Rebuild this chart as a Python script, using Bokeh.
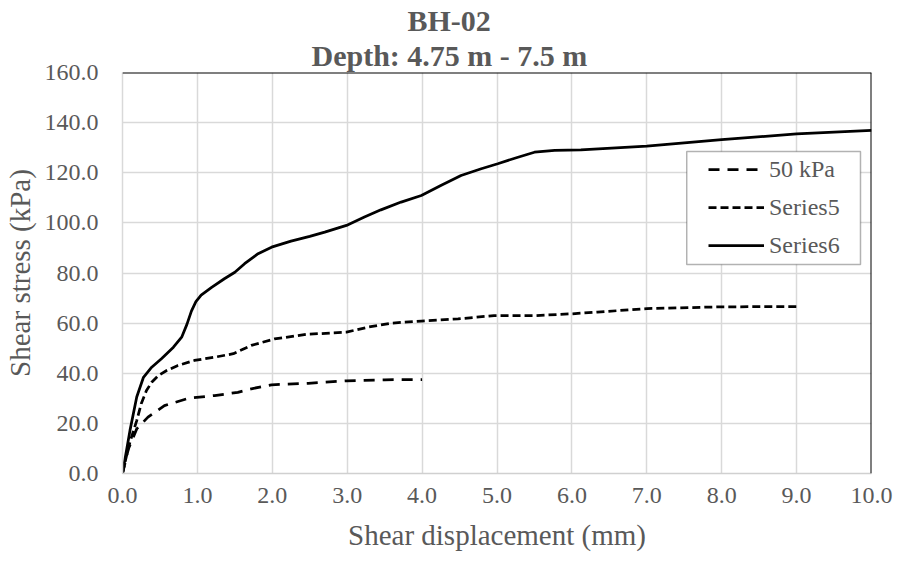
from bokeh.plotting import figure
from bokeh.models import (Range1d, NumeralTickFormatter, FixedTicker, Legend, LegendItem,
                          Span, Title, BoxAnnotation)
from bokeh.embed import file_html
from bokeh.resources import INLINE

# ---------------- data ----------------
title_line1 = "BH-02"
title_line2 = "Depth: 4.75 m - 7.5 m"
x_label = "Shear displacement (mm)"
y_label = "Shear stress (kPa)"
series_names = ["50 kPa", "Series5", "Series6"]

x_ticks = [0, 1, 2, 3, 4, 5, 6, 7, 8, 9, 10]
y_ticks = [0, 20, 40, 60, 80, 100, 120, 140, 160]

x_50kpa = [0, 0.08, 0.19, 0.34, 0.56, 0.88, 1.23, 1.54, 1.72, 1.99, 2.48, 2.99, 3.5, 4.0]
y_50kpa = [0, 9.9, 17.8, 22.5, 27.1, 30.0, 31.1, 32.4, 33.8, 35.4, 36.0, 37.0, 37.4, 37.5]

x_series5 = [0, 0.08, 0.12, 0.19, 0.25, 0.32, 0.39, 0.48, 0.59, 0.74, 0.96, 1.23, 1.48, 1.72,
             2.03, 2.45, 2.99, 3.28, 3.59, 3.99, 4.48, 4.96, 5.5, 5.99, 6.34, 7.0, 8.0, 9.0]
y_series5 = [0, 10.5, 14.5, 21.1, 27.8, 33.1, 36.4, 39.1, 41.1, 43.1, 45.1, 46.4, 47.8, 51.1,
             53.7, 55.5, 56.4, 58.4, 60.0, 60.8, 61.7, 63.0, 63.0, 63.7, 64.4, 65.8, 66.5, 66.6]

x_series6 = [0, 0.10, 0.19, 0.28, 0.39, 0.52, 0.68, 0.79, 0.86, 0.92, 0.98, 1.05, 1.19, 1.36, 1.50,
             1.63, 1.81, 1.99, 2.25, 2.50, 2.70, 2.99, 3.23, 3.45, 3.72, 3.99, 4.25, 4.52, 4.79,
             5.01, 5.28, 5.50, 5.77, 6.12, 7.0, 8.0, 9.0, 10.0]
y_series6 = [0, 17.2, 30.5, 38.4, 42.4, 45.8, 50.4, 54.4, 59.5, 64.8, 68.6, 71.2, 74.3, 77.7, 80.3,
             83.7, 87.7, 90.3, 92.7, 94.6, 96.3, 99.0, 102.3, 105.2, 108.3, 110.9, 114.9, 118.9, 121.6,
             123.6, 126.2, 128.2, 128.9, 129.1, 130.6, 133.2, 135.5, 136.9]

# ---------------- styling ----------------
FONT = "Liberation Serif"
TEXT = "#595959"
GRID = "#d9d9d9"

p = figure(width=898, height=562, output_backend="svg", toolbar_location=None,
           x_range=Range1d(x_ticks[0], x_ticks[-1]), y_range=Range1d(y_ticks[0], y_ticks[-1]),
           min_border_left=121, min_border_right=27, min_border_top=72, min_border_bottom=89)
p.title = None
p.outline_line_color = None
p.background_fill_color = "white"
p.border_fill_color = "white"

# grid
p.xgrid.ticker = FixedTicker(ticks=x_ticks)
p.ygrid.ticker = FixedTicker(ticks=y_ticks)
for g in (p.xgrid, p.ygrid):
    g.grid_line_color = GRID
    g.grid_line_width = 1.5

# axes
p.xaxis.ticker = FixedTicker(ticks=x_ticks)
p.yaxis.ticker = FixedTicker(ticks=y_ticks)
for ax in (p.xaxis, p.yaxis):
    ax.formatter = NumeralTickFormatter(format="0.0")
    ax.major_tick_line_color = None
    ax.minor_tick_line_color = None
    ax.major_tick_out = 0
    ax.major_tick_in = 0
    ax.minor_tick_out = 0
    ax.minor_tick_in = 0
    ax.axis_line_color = "#d0d0d0"
    ax.axis_line_width = 1.5
    ax.major_label_text_font = FONT
    ax.major_label_text_font_size = "24px"
    ax.major_label_text_color = TEXT
    ax.axis_label_text_font = FONT
    ax.axis_label_text_font_size = "29px"
    ax.axis_label_text_font_style = "normal"
    ax.axis_label_text_color = TEXT
p.xaxis.axis_label = x_label
p.yaxis.axis_label = y_label
p.xaxis.major_label_standoff = 14
p.xaxis.axis_label_standoff = 13
p.yaxis.major_label_standoff = 24
p.yaxis.axis_label_standoff = 6
p.yaxis.axis_line_color = GRID

# black top/right frame
p.add_layout(Span(location=y_ticks[-1], dimension="width", line_color="black", line_width=2))
p.add_layout(Span(location=x_ticks[-1], dimension="height", line_color="black", line_width=2))

# data lines
r50 = p.line(x_50kpa, y_50kpa, line_color="black", line_width=2.75, line_dash="11 8")
r5 = p.line(x_series5, y_series5, line_color="black", line_width=2.75, line_dash="8 4")
r6 = p.line(x_series6, y_series6, line_color="black", line_width=2.75)

# legend box
p.add_layout(BoxAnnotation(left=7.533, right=9.853, top=128.5, bottom=83.4,
                           fill_color="white", fill_alpha=1.0,
                           line_color="black", line_width=1.5))
legend = Legend(items=[LegendItem(label=series_names[0], renderers=[r50]),
                       LegendItem(label=series_names[1], renderers=[r5]),
                       LegendItem(label=series_names[2], renderers=[r6])],
                location=(586, 214), padding=0, margin=0, spacing=10,
                glyph_width=56, glyph_height=28, label_height=28, label_standoff=5,
                border_line_alpha=0, background_fill_alpha=0,
                label_text_font=FONT, label_text_font_size="24px", label_text_color=TEXT)
p.add_layout(legend)

# two-line chart title (first added sits nearest the plot)
p.add_layout(Title(text=title_line2, align="left", offset=189, standoff=1,
                   text_font=FONT, text_font_size="30px", text_font_style="bold",
                   text_color=TEXT), "above")
p.add_layout(Title(text=title_line1, align="left", offset=285, standoff=0,
                   text_font=FONT, text_font_size="30px", text_font_style="bold",
                   text_color=TEXT), "above")

open("out.html", "w").write(file_html(p, INLINE))
